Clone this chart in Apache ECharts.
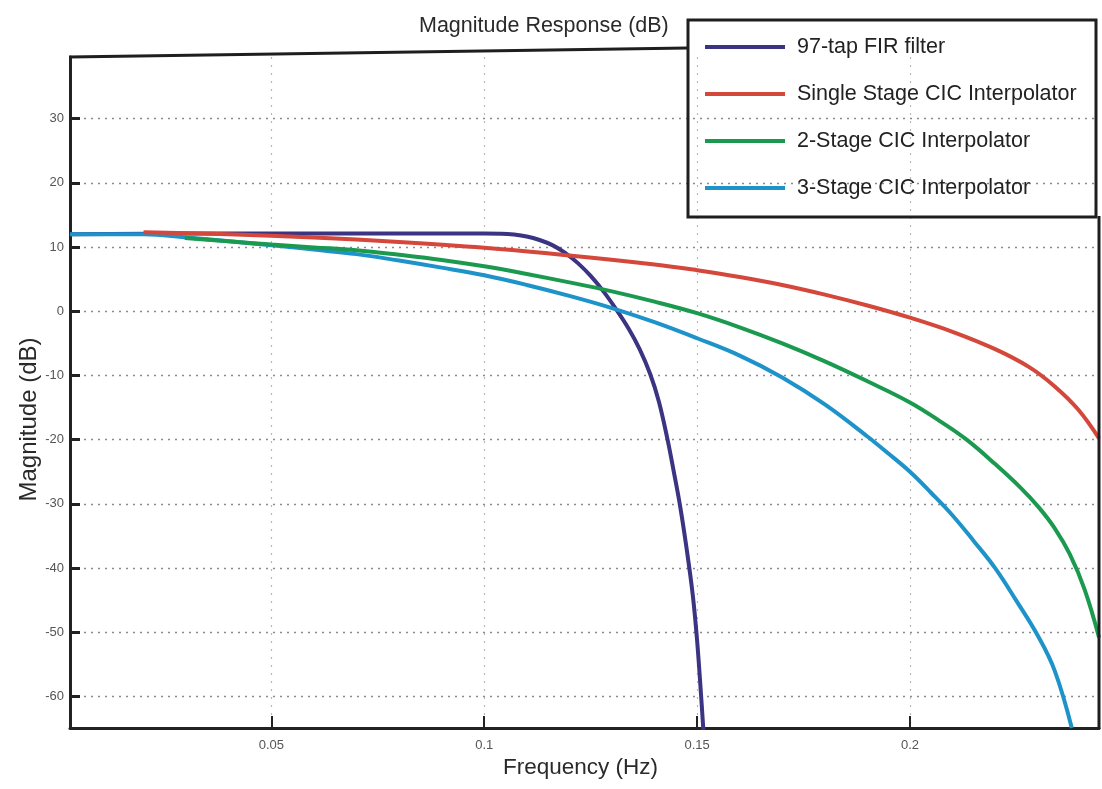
<!DOCTYPE html>
<html>
<head>
<meta charset="utf-8">
<title>Magnitude Response (dB)</title>
<script src="https://cdn.jsdelivr.net/npm/echarts@6/dist/echarts.min.js"></script>
<style>
  html, body { margin: 0; padding: 0; background: #ffffff; }
  #chart { width: 1102px; height: 789px; }
</style>
</head>
<body>
<div id="chart"></div>
<script>
// Frequency response of the interpolation filters (frequency in Hz, magnitude in dB)
const firFreq = [0.0027, 0.03, 0.06, 0.09, 0.100, 0.104, 0.107, 0.110, 0.113, 0.116, 0.119, 0.122, 0.125, 0.128, 0.131, 0.134, 0.1365, 0.139, 0.141, 0.143, 0.1445, 0.146, 0.1475, 0.149, 0.150, 0.1509, 0.1515];
const firDb   = [12.0, 12.1, 12.1, 12.1, 12.1, 12.08, 11.95, 11.65, 11.1, 10.3, 9.1, 7.5, 5.5, 3.1, 0.3, -2.8, -5.9, -9.8, -14.0, -19.8, -24.9, -30.3, -36.8, -44.3, -51.3, -59.5, -65.5];

const cic1Freq = [0.02, 0.04, 0.06, 0.08, 0.1, 0.12, 0.14, 0.15, 0.16, 0.17, 0.18, 0.19, 0.2, 0.21, 0.22, 0.228, 0.234, 0.2395, 0.2444];
const cic1Db   = [12.3, 12.0, 11.5, 10.8, 9.9, 8.7, 7.3, 6.4, 5.35, 4.1, 2.6, 0.9, -1.0, -3.2, -5.9, -8.7, -11.7, -15.3, -19.8];

const cic2Freq = [0.0297, 0.04, 0.05, 0.06, 0.07, 0.08, 0.09, 0.1, 0.11, 0.12, 0.13, 0.14, 0.15, 0.16, 0.17, 0.18, 0.19, 0.2, 0.207, 0.2133, 0.22, 0.226, 0.2302, 0.234, 0.2375, 0.241, 0.2444];
const cic2Db   = [11.4, 10.9, 10.4, 9.95, 9.5, 8.8, 8.0, 7.0, 5.8, 4.5, 3.1, 1.5, -0.3, -2.5, -5.0, -7.8, -10.9, -14.2, -17.1, -20.0, -23.8, -27.5, -30.5, -33.8, -37.8, -43.3, -50.8];

const cic3Freq = [0.0027, 0.02, 0.03, 0.04, 0.05, 0.06, 0.07, 0.08, 0.09, 0.1, 0.11, 0.12, 0.13, 0.14, 0.15, 0.16, 0.17, 0.18, 0.19, 0.195, 0.2, 0.205, 0.21, 0.215, 0.22, 0.225, 0.23, 0.234, 0.238];
const cic3Db   = [12.0, 12.0, 11.5, 10.9, 10.3, 9.6, 8.9, 7.9, 6.8, 5.6, 4.1, 2.4, 0.5, -1.7, -4.2, -6.9, -10.3, -14.5, -19.5, -22.2, -25.0, -28.3, -31.8, -35.8, -40.0, -45.1, -50.5, -56.0, -64.9];

const seriesNames = ['97-tap FIR filter', 'Single Stage CIC Interpolator', '2-Stage CIC Interpolator', '3-Stage CIC Interpolator'];
const seriesColors = ['#3a3483', '#d4473b', '#1b9a4f', '#1d93c9'];

const xTickValues = [0.05, 0.1, 0.15, 0.2];
const xTickLabels = ['0.05', '0.1', '0.15', '0.2'];
const yTickValues = [-60, -50, -40, -30, -20, -10, 0, 10, 20, 30];
const yTickLabels = ['-60', '-50', '-40', '-30', '-20', '-10', '0', '10', '20', '30'];

const FONT = "'Liberation Sans', Arial, sans-serif";

function zip(xs, ys) { return xs.map((x, i) => [x, ys[i]]); }

const chart = echarts.init(document.getElementById('chart'), null, { renderer: 'canvas' });

function lineSeries(name, color, xs, ys, z) {
  return {
    name: name,
    type: 'line',
    data: zip(xs, ys),
    showSymbol: false,
    smooth: 0.4,
    z: z,
    lineStyle: { color: color, width: 4 },
    itemStyle: { color: color },
    emphasis: { disabled: true }
  };
}

const option = {
  animation: false,
  backgroundColor: '#ffffff',
  title: {
    text: 'Magnitude Response (dB)',
    left: 419,
    top: 15,
    padding: 0,
    textStyle: { fontFamily: FONT, fontSize: 21.5, fontWeight: 'normal', color: '#2a2a2a' }
  },
  legend: {
    orient: 'vertical',
    left: 705,
    top: 35,
    padding: 0,
    itemWidth: 80,
    itemHeight: 4,
    itemGap: 23,
    icon: 'rect',
    selectedMode: false,
    data: seriesNames,
    textStyle: { fontFamily: FONT, fontSize: 21.5, color: '#222222', lineHeight: 24, padding: [0, 0, 0, 7] }
  },
  grid: { left: 70, right: 3, top: 57, bottom: 61, containLabel: false },
  xAxis: {
    type: 'value',
    min: 0.00272,
    max: 0.24439,
    name: 'Frequency (Hz)',
    nameLocation: 'middle',
    nameGap: 28,
    nameMoveOverlap: false,
    nameTextStyle: { fontFamily: FONT, fontSize: 22.5, color: '#2a2a2a', padding: [0, 8, 0, 0] },
    axisLine: { show: true, onZero: false, lineStyle: { color: '#222222', width: 3 } },
    axisTick: { show: true, inside: true, length: 12, customValues: xTickValues, lineStyle: { color: '#222222', width: 2 } },
    axisLabel: {
      customValues: xTickValues,
      margin: 11,
      fontFamily: FONT, fontSize: 13, color: '#555555',
      formatter: v => { const i = xTickValues.findIndex(t => Math.abs(t - v) < 1e-9); return i >= 0 ? xTickLabels[i] : ''; }
    },
    splitLine: { show: true, lineStyle: { color: '#b8b8b8', width: 1.2, type: [2, 6] } }
  },
  yAxis: {
    type: 'value',
    min: -64.9,
    max: 39.6,
    name: 'Magnitude (dB)',
    nameLocation: 'middle',
    nameGap: 29,
    nameMoveOverlap: false,
    nameTextStyle: { fontFamily: FONT, fontSize: 24, color: '#2a2a2a', padding: [0, 54, 0, 0] },
    axisLine: { show: true, onZero: false, lineStyle: { color: '#222222', width: 3 } },
    axisTick: { show: true, inside: true, length: 10, customValues: yTickValues, lineStyle: { color: '#222222', width: 3 } },
    axisLabel: {
      customValues: yTickValues,
      margin: 6,
      fontFamily: FONT, fontSize: 13, color: '#555555',
      formatter: v => { const i = yTickValues.findIndex(t => Math.abs(t - v) < 1e-9); return i >= 0 ? yTickLabels[i] : ''; }
    },
    splitLine: { show: true, lineStyle: { color: '#8a8a8a', width: 1.4, type: [2, 5] } }
  },
  series: [
    lineSeries(seriesNames[0], seriesColors[0], firFreq, firDb, 2),
    lineSeries(seriesNames[3], seriesColors[3], cic3Freq, cic3Db, 3),
    lineSeries(seriesNames[2], seriesColors[2], cic2Freq, cic2Db, 4),
    lineSeries(seriesNames[1], seriesColors[1], cic1Freq, cic1Db, 5)
  ],
  graphic: [
    // slanted upper frame edge running into the legend box
    { type: 'line', z: 10, shape: { x1: 69, y1: 57, x2: 688, y2: 48 }, style: { stroke: '#1e1e1e', lineWidth: 3 } },
    // legend frame
    { type: 'rect', z: 10, shape: { x: 688, y: 20, width: 408, height: 197 }, style: { fill: null, stroke: '#1e1e1e', lineWidth: 3 } },
    // right frame edge below the legend
    { type: 'line', z: 10, shape: { x1: 1099, y1: 216, x2: 1099, y2: 729 }, style: { stroke: '#1e1e1e', lineWidth: 3 } }
  ]
};

chart.setOption(option);
</script>
</body>
</html>
